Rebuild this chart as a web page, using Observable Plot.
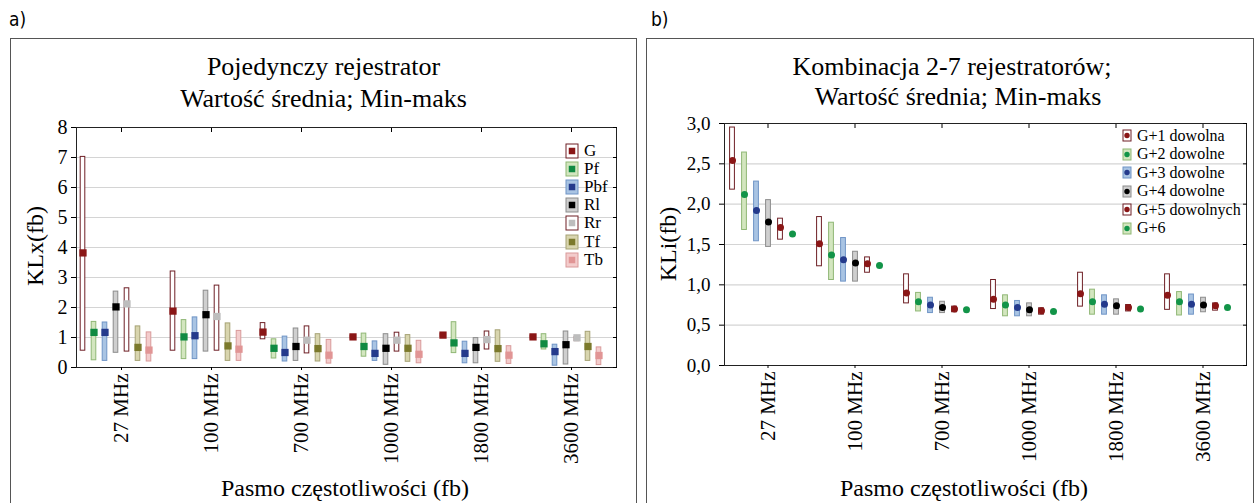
<!DOCTYPE html>
<html><head><meta charset="utf-8">
<script src="https://cdn.jsdelivr.net/npm/d3@7"></script>
<script src="https://cdn.jsdelivr.net/npm/@observablehq/plot@0.6"></script>
<style>
html,body{margin:0;padding:0;background:#fff;}
body{width:1255px;height:503px;overflow:hidden;position:relative;font-family:"Liberation Serif","Times New Roman",serif;color:#000;}
.abs{position:absolute;white-space:nowrap;}
.panel{position:absolute;border:1px solid #555;box-sizing:border-box;}
.tag{font-family:"Liberation Sans Narrow","DejaVu Sans Condensed","Liberation Sans",sans-serif;font-size:19px;}
.title{font-size:26px;text-align:center;}
.ylab{font-size:24px;transform:translate(-50%,-50%) rotate(-90deg);}
.xlab{font-size:24px;transform:translate(-50%,-50%);}
.leg{display:flex;align-items:center;}
.leg svg{display:block;margin-right:5px;}
</style></head>
<body>
<script>
// ---------- data: panel a ----------
const freqs = ["27 MHz","100 MHz","700 MHz","1000 MHz","1800 MHz","3600 MHz"];
const seriesA = ["G","Pf","Pbf","Rl","Rr","Tf","Tb"];
const meanA = [
  [3.82,1.88,1.18,1.02,1.08,1.02],
  [1.17,1.02,0.64,0.70,0.82,0.79],
  [1.17,1.06,0.50,0.47,0.47,0.53],
  [2.02,1.76,0.70,0.64,0.67,0.76],
  [2.12,1.70,0.91,0.91,0.93,0.99],
  [0.67,0.72,0.63,0.64,0.63,0.70],
  [0.58,0.61,0.41,0.44,0.41,0.40]
];
const minA = [
  [0.56,0.56,0.94,0.97,1.02,0.97],
  [0.24,0.28,0.30,0.36,0.48,0.60],
  [0.22,0.28,0.20,0.22,0.14,0.06],
  [0.49,0.53,0.22,0.09,0.14,0.10],
  [0.53,0.56,0.47,0.53,0.60,0.88],
  [0.22,0.22,0.20,0.19,0.19,0.22],
  [0.20,0.22,0.13,0.14,0.12,0.08]
];
const maxA = [
  [7.02,3.20,1.48,1.06,1.12,1.06],
  [1.52,1.58,0.94,1.13,1.51,1.11],
  [1.50,1.67,1.03,0.87,0.86,0.76],
  [2.53,2.56,1.30,1.11,0.98,1.20],
  [2.64,2.73,1.37,1.16,1.20,1.02],
  [1.37,1.47,1.11,1.08,1.24,1.19],
  [1.17,1.22,0.92,0.89,0.71,0.67]
];
const yTicksA = [0,1,2,3,4,5,6,7,8];

// ---------- data: panel b ----------
const seriesB = ["G+1 dowolna","G+2 dowolne","G+3 dowolne","G+4 dowolne","G+5 dowolnych","G+6"];
const meanB = [
  [2.54,1.51,0.90,0.82,0.89,0.87],
  [2.12,1.37,0.79,0.75,0.79,0.79],
  [1.92,1.31,0.75,0.72,0.76,0.76],
  [1.78,1.27,0.72,0.69,0.74,0.75],
  [1.71,1.26,0.70,0.68,0.72,0.74],
  [1.63,1.24,0.69,0.67,0.70,0.72]
];
const minB = [
  [2.18,1.23,0.77,0.70,0.73,0.69],
  [1.68,1.06,0.67,0.61,0.63,0.62],
  [1.54,1.04,0.65,0.61,0.63,0.63],
  [1.47,1.04,0.65,0.61,0.63,0.66],
  [1.56,1.15,0.66,0.63,0.67,0.68],
  [null,null,null,null,null,null]
];
const maxB = [
  [2.95,1.84,1.13,1.06,1.15,1.13],
  [2.64,1.77,0.90,0.87,0.94,0.91],
  [2.28,1.58,0.84,0.80,0.87,0.88],
  [2.05,1.41,0.79,0.77,0.82,0.84],
  [1.82,1.34,0.73,0.71,0.75,0.77],
  [null,null,null,null,null,null]
];
const yTicksB = [0,0.5,1,1.5,2,2.5,3];

// ---------- styles ----------
const boxFillA   = ["#ffffff","#d3e6bf","#a9c4e3","#cfcfcf","#ffffff","#d8d5ae","#f3cccc"];
const boxStrokeA = ["#6e1f25","#8fb775","#6f94c6","#8c8c8c","#6e1f25","#a6a274","#d99a9a"];
const markA      = ["#8a1616","#108a42","#243a8c","#000000","#bdbdbd","#7b792b","#e19595"];
const boxFillB   = ["#ffffff","#d3e6bf","#a9c4e3","#cfcfcf","#ffffff","#d3e6bf"];
const boxStrokeB = ["#6e1f25","#8fb775","#6f94c6","#8c8c8c","#6e1f25","#8fb775"];
const markB      = ["#8a1616","#129448","#243a8c","#000000","#8a1616","#129448"];

function rows(series, mean, min, max) {
  const out = [];
  series.forEach((s, i) => freqs.forEach((f, j) => out.push({s, i, f, mean: mean[i][j], min: min[i][j], max: max[i][j]})));
  return out;
}
const dataA = rows(seriesA, meanA, minA, maxA);
const dataB = rows(seriesB, meanB, minB, maxB);

function panel({data, series, boxFill, boxStroke, mark, symbol, r, yDomain, yTicks, fmt, width, height, margins, slots, inset, tickFont, yPad}) {
  const marks = [
    Plot.gridY(yTicks, {stroke: "#d4d4d4", strokeOpacity: 1, strokeWidth: 1.2}),
  ];
  series.forEach((s, i) => {
    const d = data.filter(e => e.s === s);
    const boxes = d.filter(e => e.min != null && e.max != null);
    if (boxes.length) marks.push(Plot.barY(boxes, {fx: "f", x: "s", y1: "min", y2: "max", fill: boxFill[i], stroke: boxStroke[i], strokeWidth: 1, insetLeft: inset, insetRight: inset}));
  });
  series.forEach((s, i) => {
    const d = data.filter(e => e.s === s);
    marks.push(Plot.dot(d, {fx: "f", x: "s", y: "mean", symbol, r, fill: mark[i], stroke: "none"}));
  });
  marks.push(
    Plot.frame({facet: "super", stroke: "#222"}),
    Plot.axisY(yTicks, {anchor: "left", tickSize: 5, tickPadding: yPad, fontSize: tickFont.y, tickFormat: fmt, label: null}),
    Plot.axisY(yTicks, {anchor: "right", tickSize: -4, tickFormat: () => "", label: null}),
    Plot.axisFx({anchor: "bottom", tickSize: 3, tickPadding: 3, tickRotate: -90, fontSize: tickFont.x, label: null}),
    Plot.axisFx({anchor: "top", tickSize: -4, tickFormat: () => "", label: null})
  );
  return Plot.plot({
    width, height,
    marginLeft: margins[0], marginRight: margins[1], marginTop: margins[2], marginBottom: margins[3],
    style: {fontFamily: '"Liberation Serif","Times New Roman",serif', color: "#000", background: "transparent", overflow: "visible"},
    fx: {domain: freqs, padding: 0, label: null},
    x: {domain: [...series, ...d3.range(slots - series.length).map(k => "_" + k)], padding: 0, axis: null},
    y: {domain: yDomain, label: null},
    marks
  });
}

const fmtA = d3.format("d");
const fmtB = v => d3.format(".1f")(v).replace(".", ",");

const svgA = panel({data: dataA, series: seriesA, boxFill: boxFillA, boxStroke: boxStrokeA, mark: markA,
  symbol: "square", r: 4.1, yDomain: [0, 8], yTicks: yTicksA, fmt: fmtA, width: 624, height: 464,
  margins: [63, 17, 88, 136], slots: 8, inset: 3.2, tickFont: {y: 20, x: 21}, yPad: 4});
const svgB = panel({data: dataB, series: seriesB, boxFill: boxFillB, boxStroke: boxStrokeB, mark: markB,
  symbol: "circle", r: 3.5, yDomain: [0, 3], yTicks: yTicksB, fmt: fmtB, width: 605, height: 464,
  margins: [76, 5, 84, 138], slots: 7, inset: 3.6, tickFont: {y: 19, x: 21}, yPad: 9});

function place(el, left, top) {
  el.style.position = "absolute"; el.style.left = left + "px"; el.style.top = top + "px";
  document.body.appendChild(el);
}
function div(cls, text, css) {
  const e = document.createElement("div");
  e.className = "abs " + cls; e.textContent = text;
  Object.assign(e.style, css);
  document.body.appendChild(e);
  return e;
}

// panels
const pa = document.createElement("div"); pa.className = "panel";
Object.assign(pa.style, {left: "10px", top: "38px", width: "627px", height: "480px"});
document.body.appendChild(pa);
const pb = document.createElement("div"); pb.className = "panel";
Object.assign(pb.style, {left: "646px", top: "38px", width: "608px", height: "480px"});
document.body.appendChild(pb);

place(svgA, 11, 39);
place(svgB, 647, 39);

div("tag", "a)", {left: "9px", top: "8px"});
div("tag", "b)", {left: "651px", top: "8px"});

div("title", "Pojedynczy rejestrator", {left: "10px", width: "627px", top: "51px", lineHeight: "32px"});
div("title", "Wartość średnia; Min-maks", {left: "10px", width: "627px", top: "83px", lineHeight: "32px"});
div("title", "Kombinacja 2-7 rejestratorów;", {left: "646px", width: "612px", top: "52px", lineHeight: "30px"});
div("title", "Wartość średnia; Min-maks", {left: "652px", width: "612px", top: "82px", lineHeight: "30px"});

div("ylab", "KLx(fb)", {left: "35px", top: "246px"});
div("ylab", "KLi(fb)", {left: "668px", top: "244px"});
div("xlab", "Pasmo częstotliwości (fb)", {left: "345px", top: "488px"});
div("xlab", "Pasmo częstotliwości (fb)", {left: "964px", top: "488px"});

// legends
function legendRow(left, cy, label, w, h, fill, stroke, mk, shape, size, font) {
  const e = document.createElement("div");
  e.className = "abs leg";
  Object.assign(e.style, {left: left + "px", top: (cy - 10) + "px", height: "20px", fontSize: font + "px"});
  const ns = "http://www.w3.org/2000/svg";
  const s = document.createElementNS(ns, "svg");
  s.setAttribute("width", w + 2); s.setAttribute("height", h + 2);
  const r = document.createElementNS(ns, "rect");
  r.setAttribute("x", 1); r.setAttribute("y", 1); r.setAttribute("width", w); r.setAttribute("height", h);
  r.setAttribute("fill", fill); r.setAttribute("stroke", stroke);
  s.appendChild(r);
  let m;
  if (shape === "square") {
    m = document.createElementNS(ns, "rect");
    m.setAttribute("x", 1 + (w - size) / 2); m.setAttribute("y", 1 + (h - size) / 2);
    m.setAttribute("width", size); m.setAttribute("height", size);
  } else {
    m = document.createElementNS(ns, "circle");
    m.setAttribute("cx", 1 + w / 2); m.setAttribute("cy", 1 + h / 2); m.setAttribute("r", size);
  }
  m.setAttribute("fill", mk);
  s.appendChild(m);
  e.appendChild(s);
  const t = document.createElement("span"); t.textContent = label;
  e.appendChild(t);
  document.body.appendChild(e);
}
seriesA.forEach((s, i) => legendRow(565, 150.5 + i * 18.2, s, 12, 14, boxFillA[i], boxStrokeA[i], markA[i], "square", 6.5, 17));
seriesB.forEach((s, i) => legendRow(1122, 135.5 + i * 18.5, s, 8, 11, boxFillB[i], boxStrokeB[i], markB[i], "circle", 2.7, 16));
</script>
</body></html>
